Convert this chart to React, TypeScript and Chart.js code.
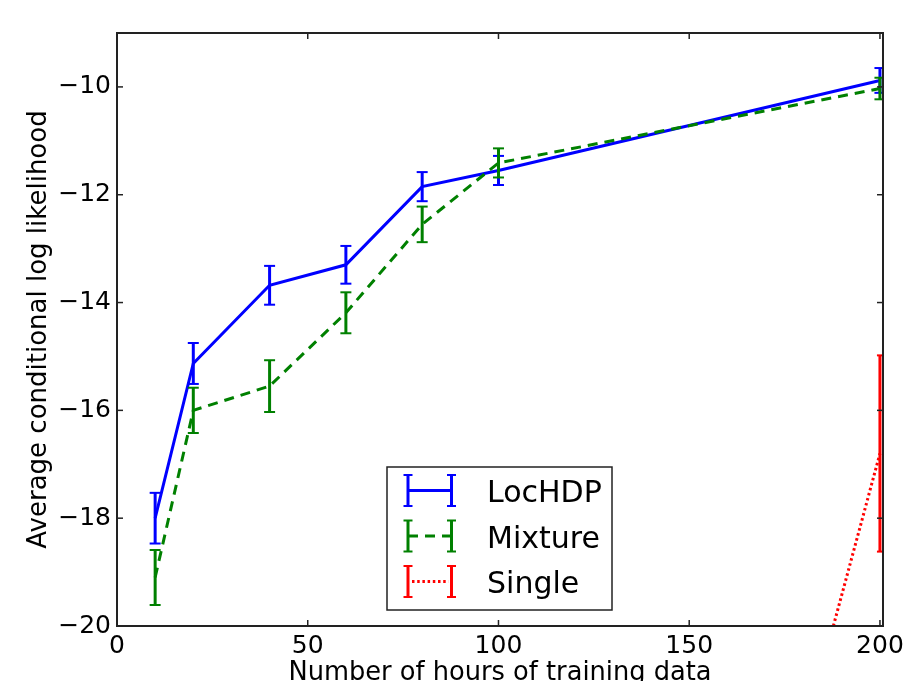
import React, { useEffect, useRef } from "react";
import { Chart, registerables } from "chart.js";

Chart.register(...registerables);

// ---- data ----
const hours = [10, 20, 40, 60, 80, 100, 200];
const lochdpMean = [-18.0, -15.13, -13.68, -13.3, -11.85, -11.55, -9.88];
const lochdpErr = [0.47, 0.38, 0.36, 0.35, 0.27, 0.27, 0.23];
const mixtureMean = [-19.1, -16.0, -15.55, -14.19, -12.55, -11.41, -10.03];
const mixtureErr = [0.51, 0.42, 0.48, 0.38, 0.33, 0.27, 0.2];
const singleHours = [100, 200];
const singleMean = [-43.0, -16.8];
const singleErr = [1.8, 1.82];

const xTicks = [0, 50, 100, 150, 200];
const yTicks = [-20, -18, -16, -14, -12, -10];

const seriesNames = ["LocHDP", "Mixture", "Single"];
const seriesColors = ["#0000ff", "#008000", "#ff0000"];
const seriesDash: number[][] = [[], [10, 7], [2.5, 2.7]];

const FONT = "DejaVu Sans";

const series = [
  { x: hours, mean: lochdpMean, err: lochdpErr },
  { x: hours, mean: mixtureMean, err: mixtureErr },
  { x: singleHours, mean: singleMean, err: singleErr },
];

function seg(ctx: CanvasRenderingContext2D, x1: number, y1: number, x2: number, y2: number) {
  ctx.beginPath();
  ctx.moveTo(x1, y1);
  ctx.lineTo(x2, y2);
  ctx.stroke();
}

const errorBarPlugin = {
  id: "errorBars",
  afterDatasetDraw(chart: any, args: any) {
    const s = series[args.index];
    if (!s) return;
    const { ctx, chartArea: a } = chart;
    const xs = chart.scales.x;
    const ys = chart.scales.y;
    ctx.save();
    ctx.beginPath();
    ctx.rect(a.left, a.top, a.right - a.left, a.bottom - a.top);
    ctx.clip();
    ctx.strokeStyle = seriesColors[args.index];
    ctx.setLineDash([]);
    ctx.lineCap = "butt";
    const cap = args.index === 2 ? 3 : 5.5;
    s.x.forEach((xv: number, i: number) => {
      const px = xs.getPixelForValue(xv);
      const y1 = ys.getPixelForValue(s.mean[i] + s.err[i]);
      const y2 = ys.getPixelForValue(s.mean[i] - s.err[i]);
      ctx.lineWidth = 3;
      seg(ctx, px, y1, px, y2);
      ctx.lineWidth = 2;
      seg(ctx, px - cap, y1, px + cap, y1);
      seg(ctx, px - cap, y2, px + cap, y2);
    });
    ctx.restore();
  },
};

const framePlugin = {
  id: "frameTicks",
  afterDatasetsDraw(chart: any) {
    const { ctx, chartArea: a } = chart;
    const xs = chart.scales.x;
    const ys = chart.scales.y;
    ctx.save();
    ctx.setLineDash([]);
    ctx.strokeStyle = "#222";
    ctx.lineWidth = 1.5;
    const tl = 6;
    xTicks.forEach((v) => {
      const px = xs.getPixelForValue(v);
      seg(ctx, px, a.bottom, px, a.bottom - tl);
      seg(ctx, px, a.top, px, a.top + tl);
    });
    yTicks.forEach((v) => {
      const py = ys.getPixelForValue(v);
      seg(ctx, a.left, py, a.left + tl, py);
      seg(ctx, a.right, py, a.right - tl, py);
    });
    ctx.lineWidth = 2;
    ctx.strokeStyle = "#222";
    ctx.strokeRect(a.left, a.top, a.right - a.left, a.bottom - a.top);
    ctx.restore();
  },
};

const legendPlugin = {
  id: "mplLegend",
  afterDraw(chart: any) {
    const { ctx } = chart;
    const bx = 387, by = 467, bw = 225, bh = 143;
    ctx.save();
    ctx.fillStyle = "#ffffff";
    ctx.fillRect(bx, by, bw, bh);
    ctx.strokeStyle = "#222";
    ctx.lineWidth = 1.5;
    ctx.setLineDash([]);
    ctx.strokeRect(bx, by, bw, bh);
    seriesNames.forEach((name, i) => {
      const cy = 490.5 + i * 45.5;
      const xl = 408, xr = 451.5;
      const h = 15.5;
      ctx.strokeStyle = seriesColors[i];
      ctx.lineWidth = 3;
      ctx.setLineDash(seriesDash[i]);
      ctx.lineDashOffset = 0;
      if (i === 2) seg(ctx, xl + 4, cy, xr - 3, cy);
      else seg(ctx, xl, cy, xr, cy);
      ctx.setLineDash([]);
      [xl, xr].forEach((px) => {
        ctx.lineWidth = 3;
        seg(ctx, px, cy - h, px, cy + h);
        ctx.lineWidth = 2;
        seg(ctx, px - 4.5, cy - h, px + 4.5, cy - h);
        seg(ctx, px - 4.5, cy + h, px + 4.5, cy + h);
      });
      ctx.fillStyle = "#000";
      ctx.font = `30px "${FONT}"`;
      ctx.textBaseline = "alphabetic";
      ctx.textAlign = "left";
      ctx.fillText(name, 487, cy + 11.5);
    });
    ctx.restore();
  },
};

export default function App() {
  const ref = useRef<HTMLCanvasElement>(null);

  useEffect(() => {
    if (!ref.current) return;
    const datasets = series.map((s, i) => ({
      label: seriesNames[i],
      data: s.x.map((xv, j) => ({ x: xv, y: s.mean[j] })),
      borderColor: seriesColors[i],
      backgroundColor: seriesColors[i],
      borderWidth: 3,
      borderDash: seriesDash[i],
      borderCapStyle: "butt" as const,
      pointRadius: 0,
      pointHoverRadius: 0,
      tension: 0,
      fill: false,
      order: 3 - i,
    }));

    const chart = new Chart(ref.current, {
      type: "line",
      data: { datasets },
      plugins: [errorBarPlugin, framePlugin, legendPlugin],
      options: {
        animation: false,
        responsive: false,
        devicePixelRatio: 1,
        events: [],
        layout: { padding: { top: 33, right: 24, left: 0, bottom: 0 } },
        plugins: {
          legend: { display: false },
          tooltip: { enabled: false },
          title: { display: false },
        },
        scales: {
          x: {
            type: "linear",
            min: 0,
            max: 200.8,
            grid: { display: false, drawTicks: false },
            border: { display: false },
            afterBuildTicks: (s: any) => {
              s.ticks = xTicks.map((v) => ({ value: v }));
            },
            afterFit: (s: any) => {
              s.height = 55;
              s.paddingLeft = 0;
              s.paddingRight = 0;
            },
            ticks: {
              autoSkip: false,
              maxRotation: 0,
              padding: 5.5,
              color: "#000",
              font: { family: FONT, size: 25 },
              callback: (v: any) => String(v),
            },
            title: {
              display: true,
              text: "Number of hours of training data",
              color: "#000",
              font: { family: FONT, size: 25.7 },
              padding: { top: 0, bottom: -8 },
            },
          },
          y: {
            type: "linear",
            min: -20,
            max: -9,
            grid: { display: false, drawTicks: false },
            border: { display: false },
            afterBuildTicks: (s: any) => {
              s.ticks = yTicks.map((v) => ({ value: v }));
            },
            afterFit: (s: any) => {
              s.width = 117;
              s.paddingTop = 0;
              s.paddingBottom = 0;
            },
            ticks: {
              autoSkip: false,
              padding: 6,
              color: "#000",
              font: { family: FONT, size: 25 },
              callback: (v: any) => String(v).replace("-", "\u2212"),
            },
            title: {
              display: true,
              text: "Average conditional log likelihood",
              color: "#000",
              font: { family: FONT, size: 26 },
              padding: { top: 23.5, bottom: 0 },
            },
          },
        },
      },
    });
    return () => chart.destroy();
  }, []);

  return (
    <div
      style={{
        position: "fixed",
        left: 0,
        top: 0,
        width: 907,
        height: 681,
        background: "#ffffff",
        overflow: "hidden",
      }}
    >
      <canvas
        ref={ref}
        width={907}
        height={681}
        style={{ display: "block", width: 907, height: 681 }}
      />
    </div>
  );
}
